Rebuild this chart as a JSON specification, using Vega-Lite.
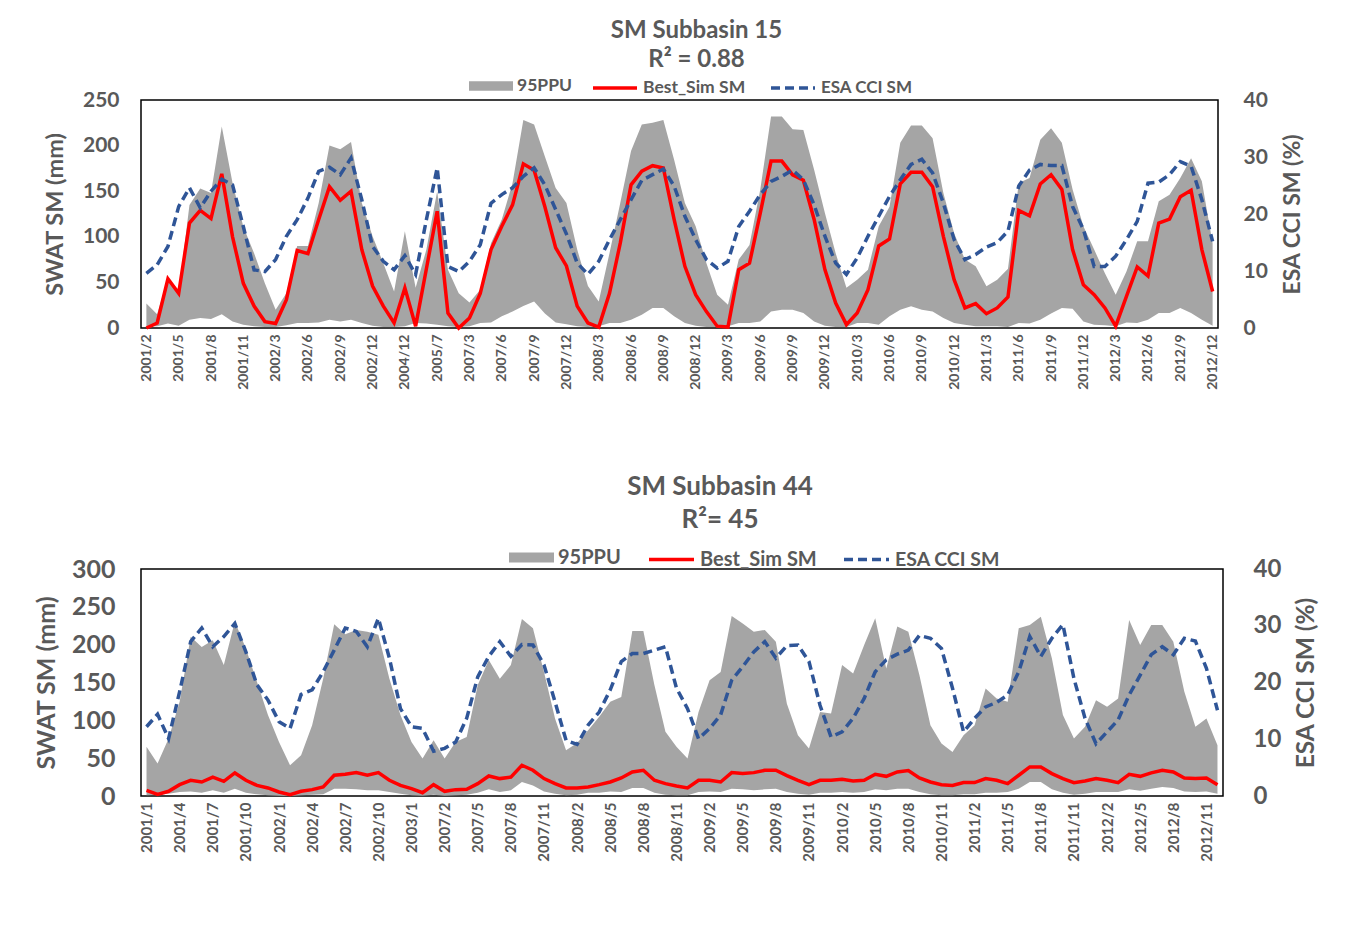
{
  "$schema": "https://vega.github.io/schema/vega-lite/v6.json",
  "padding": {"left": 33, "top": 18, "right": 10, "bottom": 5},
  "background": "white",
  "config": {
    "view": {"stroke": "#000000", "strokeWidth": 1.5},
    "font": "Lato",
    "axis": {"labelFont": "Lato", "titleFont": "Lato", "labelFontWeight": "bold", "titleFontWeight": "bold", "labelColor": "#595959", "titleColor": "#595959", "grid": false, "domain": false, "ticks": false},
    "legend": {"labelFont": "Lato", "labelFontWeight": "bold", "labelColor": "#595959", "padding": 0, "title": null, "orient": "none", "labelOffset": 4}
  },
  "datasets": {
    "s15": [
      {"d":"2001/2","lo":2,"hi":27,"sim":0,"esa":9.6},
      {"d":"2001/3","lo":2,"hi":15,"sim":5.5,"esa":11.1},
      {"d":"2001/4","lo":5,"hi":55,"sim":54,"esa":14.3},
      {"d":"2001/5","lo":2.5,"hi":39,"sim":38,"esa":21.3},
      {"d":"2001/6","lo":9,"hi":135,"sim":115,"esa":24.6},
      {"d":"2001/7","lo":11,"hi":153,"sim":129,"esa":21.1},
      {"d":"2001/8","lo":10,"hi":148,"sim":120,"esa":24},
      {"d":"2001/9","lo":15,"hi":221,"sim":169,"esa":26.1},
      {"d":"2001/10","lo":7,"hi":159,"sim":100,"esa":25.1},
      {"d":"2001/11","lo":3.5,"hi":111,"sim":49,"esa":17.8},
      {"d":"2001/12","lo":2,"hi":82,"sim":24,"esa":10.2},
      {"d":"2002/1","lo":1,"hi":49,"sim":7,"esa":9.9},
      {"d":"2002/3","lo":1,"hi":20,"sim":5,"esa":12},
      {"d":"2002/4","lo":3,"hi":38,"sim":31,"esa":16.1},
      {"d":"2002/5","lo":5.5,"hi":90,"sim":85,"esa":19},
      {"d":"2002/6","lo":5.5,"hi":90,"sim":81.5,"esa":22.8},
      {"d":"2002/7","lo":6,"hi":137,"sim":119,"esa":27.5},
      {"d":"2002/8","lo":9,"hi":200,"sim":155,"esa":28.2},
      {"d":"2002/9","lo":7,"hi":196,"sim":140,"esa":26.9},
      {"d":"2002/10","lo":9,"hi":204,"sim":150,"esa":29.8},
      {"d":"2002/11","lo":5.5,"hi":137,"sim":86,"esa":22.5},
      {"d":"2002/12","lo":2.5,"hi":100.5,"sim":46,"esa":14.3},
      {"d":"2003/1","lo":1,"hi":71,"sim":24,"esa":11.7},
      {"d":"2004/11","lo":1,"hi":40,"sim":5.5,"esa":10.2},
      {"d":"2004/12","lo":2,"hi":106,"sim":44,"esa":12.7},
      {"d":"2005/1","lo":5.5,"hi":44,"sim":2,"esa":9.4},
      {"d":"2005/6","lo":5,"hi":86,"sim":65,"esa":19},
      {"d":"2005/7","lo":3.5,"hi":150,"sim":128,"esa":28.1},
      {"d":"2005/8","lo":2,"hi":64,"sim":16.4,"esa":10.8},
      {"d":"2007/2","lo":1,"hi":38,"sim":0,"esa":9.9},
      {"d":"2007/3","lo":2,"hi":28,"sim":11,"esa":11.7},
      {"d":"2007/4","lo":5.5,"hi":42,"sim":38,"esa":14.6},
      {"d":"2007/5","lo":6,"hi":93,"sim":86,"esa":21.9},
      {"d":"2007/6","lo":13,"hi":119,"sim":111.5,"esa":23.4},
      {"d":"2007/7","lo":18,"hi":159,"sim":135,"esa":24.6},
      {"d":"2007/8","lo":24,"hi":228,"sim":180,"esa":26.6},
      {"d":"2007/9","lo":29,"hi":223,"sim":173,"esa":28.1},
      {"d":"2007/10","lo":16,"hi":188,"sim":133,"esa":25.1},
      {"d":"2007/11","lo":6,"hi":153.5,"sim":88,"esa":20.8},
      {"d":"2007/12","lo":4,"hi":137,"sim":68,"esa":16.5},
      {"d":"2008/1","lo":2,"hi":86,"sim":24,"esa":11.4},
      {"d":"2008/2","lo":1,"hi":46,"sim":5.5,"esa":9.4},
      {"d":"2008/3","lo":2,"hi":29,"sim":1,"esa":11.7},
      {"d":"2008/4","lo":5.5,"hi":82,"sim":38,"esa":15.5},
      {"d":"2008/5","lo":5.5,"hi":137,"sim":93,"esa":19},
      {"d":"2008/6","lo":9,"hi":194,"sim":157,"esa":22.5},
      {"d":"2008/7","lo":14.6,"hi":223,"sim":172,"esa":25.9},
      {"d":"2008/8","lo":22,"hi":225,"sim":178,"esa":26.9},
      {"d":"2008/9","lo":22,"hi":228,"sim":175.5,"esa":27.9},
      {"d":"2008/10","lo":13,"hi":184.5,"sim":119,"esa":24.9},
      {"d":"2008/11","lo":5.5,"hi":137,"sim":67.6,"esa":19.6},
      {"d":"2008/12","lo":2.5,"hi":111.5,"sim":36.5,"esa":15.5},
      {"d":"2009/1","lo":1,"hi":71,"sim":18,"esa":12},
      {"d":"2009/2","lo":1,"hi":36.5,"sim":2,"esa":10.5},
      {"d":"2009/3","lo":2,"hi":25.6,"sim":1,"esa":11.7},
      {"d":"2009/4","lo":5.5,"hi":75,"sim":64,"esa":17.8},
      {"d":"2009/5","lo":5.5,"hi":91,"sim":71,"esa":20.5},
      {"d":"2009/6","lo":7,"hi":152,"sim":126,"esa":23.4},
      {"d":"2009/7","lo":18,"hi":232,"sim":183,"esa":25.7},
      {"d":"2009/8","lo":20,"hi":232,"sim":183,"esa":26.6},
      {"d":"2009/9","lo":20,"hi":218,"sim":168,"esa":27.7},
      {"d":"2009/10","lo":16.4,"hi":217,"sim":162,"esa":26},
      {"d":"2009/11","lo":7,"hi":173.6,"sim":119,"esa":21.6},
      {"d":"2009/12","lo":2.5,"hi":126,"sim":64,"esa":16.1},
      {"d":"2010/1","lo":1,"hi":82,"sim":27.4,"esa":11.4},
      {"d":"2010/2","lo":1,"hi":44,"sim":3.7,"esa":9.4},
      {"d":"2010/3","lo":5.5,"hi":53,"sim":16.4,"esa":12.3},
      {"d":"2010/4","lo":5.5,"hi":64,"sim":42,"esa":16.1},
      {"d":"2010/5","lo":3.5,"hi":111.5,"sim":90,"esa":19.6},
      {"d":"2010/6","lo":13,"hi":133,"sim":97.6,"esa":23.1},
      {"d":"2010/7","lo":20,"hi":203,"sim":158,"esa":26},
      {"d":"2010/8","lo":23.8,"hi":222,"sim":170.7,"esa":28.7},
      {"d":"2010/9","lo":20,"hi":222,"sim":170.7,"esa":29.6},
      {"d":"2010/10","lo":18,"hi":208,"sim":155,"esa":27.2},
      {"d":"2010/11","lo":11,"hi":148,"sim":100.5,"esa":21.9},
      {"d":"2010/12","lo":5.5,"hi":104,"sim":53,"esa":15.5},
      {"d":"2011/1","lo":3.5,"hi":75,"sim":22,"esa":12},
      {"d":"2011/2","lo":2,"hi":67.6,"sim":26.7,"esa":12.9},
      {"d":"2011/3","lo":2,"hi":45.7,"sim":15.7,"esa":14.2},
      {"d":"2011/4","lo":2,"hi":53,"sim":22,"esa":15},
      {"d":"2011/5","lo":1,"hi":65,"sim":34,"esa":17},
      {"d":"2011/6","lo":5.5,"hi":159,"sim":129,"esa":24.9},
      {"d":"2011/7","lo":5,"hi":164.5,"sim":123,"esa":27.7},
      {"d":"2011/8","lo":9,"hi":206.5,"sim":158,"esa":28.7},
      {"d":"2011/9","lo":16,"hi":219,"sim":168,"esa":28.5},
      {"d":"2011/10","lo":22,"hi":203,"sim":152,"esa":28.5},
      {"d":"2011/11","lo":21,"hi":152,"sim":86,"esa":21.3},
      {"d":"2011/12","lo":7,"hi":111.5,"sim":47.5,"esa":17.3},
      {"d":"2012/1","lo":3.5,"hi":86,"sim":36.5,"esa":10.8},
      {"d":"2012/2","lo":3,"hi":60,"sim":22,"esa":10.8},
      {"d":"2012/3","lo":2,"hi":36.5,"sim":2,"esa":12.6},
      {"d":"2012/4","lo":6,"hi":62,"sim":34.7,"esa":15.5},
      {"d":"2012/5","lo":5.5,"hi":95,"sim":67,"esa":18.7},
      {"d":"2012/6","lo":9,"hi":95,"sim":57,"esa":25.4},
      {"d":"2012/7","lo":16.4,"hi":139,"sim":115,"esa":25.6},
      {"d":"2012/8","lo":16.4,"hi":146,"sim":119.5,"esa":26.9},
      {"d":"2012/9","lo":22,"hi":164.5,"sim":144,"esa":29.2},
      {"d":"2012/10","lo":16.4,"hi":186,"sim":151,"esa":28.4},
      {"d":"2012/11","lo":9,"hi":161,"sim":86,"esa":22.5},
      {"d":"2012/12","lo":2.5,"hi":93,"sim":40,"esa":15.2}
    ],
    "s44": [
      {"d":"2001/1","lo":0.9,"hi":65,"sim":7.5,"esa":12.2},
      {"d":"2001/2","lo":1.8,"hi":42.8,"sim":2.2,"esa":14.4},
      {"d":"2001/3","lo":3,"hi":76,"sim":6.2,"esa":10.1},
      {"d":"2001/4","lo":5.3,"hi":124.5,"sim":15,"esa":18.4},
      {"d":"2001/5","lo":6,"hi":210.6,"sim":20.8,"esa":27.2},
      {"d":"2001/6","lo":4.4,"hi":197,"sim":18.5,"esa":29.6},
      {"d":"2001/7","lo":7.5,"hi":206,"sim":25,"esa":26.3},
      {"d":"2001/8","lo":4.4,"hi":173,"sim":19.4,"esa":28.1},
      {"d":"2001/9","lo":9.7,"hi":230.5,"sim":30.5,"esa":30.4},
      {"d":"2001/10","lo":4.4,"hi":195,"sim":20.8,"esa":25.4},
      {"d":"2001/11","lo":2.2,"hi":151,"sim":14,"esa":19.6},
      {"d":"2001/12","lo":0.9,"hi":107,"sim":10.6,"esa":16.9},
      {"d":"2002/1","lo":0.4,"hi":71.5,"sim":5.3,"esa":13.1},
      {"d":"2002/2","lo":0,"hi":40.6,"sim":1.8,"esa":11.9},
      {"d":"2002/3","lo":0.9,"hi":53.9,"sim":6.2,"esa":17.9},
      {"d":"2002/4","lo":1.8,"hi":93.6,"sim":8.4,"esa":18.7},
      {"d":"2002/5","lo":2.2,"hi":155,"sim":12,"esa":21.9},
      {"d":"2002/6","lo":9.7,"hi":227,"sim":27.4,"esa":25.7},
      {"d":"2002/7","lo":9.7,"hi":213.7,"sim":28.7,"esa":29.6},
      {"d":"2002/8","lo":8.8,"hi":219.4,"sim":30.9,"esa":29},
      {"d":"2002/9","lo":7.5,"hi":217,"sim":27.4,"esa":26.3},
      {"d":"2002/10","lo":7.5,"hi":213,"sim":30.9,"esa":31.3},
      {"d":"2002/11","lo":5.3,"hi":155,"sim":20.8,"esa":24.3},
      {"d":"2002/12","lo":3,"hi":107,"sim":14,"esa":15.4},
      {"d":"2003/1","lo":0.9,"hi":71.5,"sim":9.7,"esa":12.2},
      {"d":"2003/2","lo":0.4,"hi":49.4,"sim":4.4,"esa":11.9},
      {"d":"2007/1","lo":1.8,"hi":73.7,"sim":15,"esa":7.9},
      {"d":"2007/2","lo":0.4,"hi":49.4,"sim":6.2,"esa":8.4},
      {"d":"2007/3","lo":0.9,"hi":71.5,"sim":8.4,"esa":9.5},
      {"d":"2007/4","lo":1.8,"hi":78,"sim":8.8,"esa":13.7},
      {"d":"2007/5","lo":4.4,"hi":146.6,"sim":16.3,"esa":21},
      {"d":"2007/6","lo":8.8,"hi":179.7,"sim":26.5,"esa":24.6},
      {"d":"2007/7","lo":5.3,"hi":155,"sim":23,"esa":27.2},
      {"d":"2007/8","lo":7.5,"hi":173,"sim":25,"esa":24.6},
      {"d":"2007/9","lo":18.5,"hi":234,"sim":40.6,"esa":26.7},
      {"d":"2007/10","lo":14,"hi":221.6,"sim":34,"esa":26.6},
      {"d":"2007/11","lo":6,"hi":164,"sim":23,"esa":23.1},
      {"d":"2007/12","lo":3,"hi":102.4,"sim":16.3,"esa":16.6},
      {"d":"2008/1","lo":0.9,"hi":60.5,"sim":10.6,"esa":9.8},
      {"d":"2008/2","lo":1.8,"hi":70,"sim":10.6,"esa":9.1},
      {"d":"2008/3","lo":4.4,"hi":87,"sim":12,"esa":12.5},
      {"d":"2008/4","lo":4.4,"hi":104.6,"sim":15,"esa":14.8},
      {"d":"2008/5","lo":6,"hi":124.5,"sim":18.5,"esa":18.7},
      {"d":"2008/6","lo":5.3,"hi":131,"sim":23.8,"esa":23.7},
      {"d":"2008/7","lo":10.6,"hi":218,"sim":31.8,"esa":25.1},
      {"d":"2008/8","lo":10.6,"hi":218,"sim":34,"esa":25.1},
      {"d":"2008/9","lo":4.4,"hi":146.6,"sim":20.8,"esa":25.7},
      {"d":"2008/10","lo":1.8,"hi":84.8,"sim":16.3,"esa":26.3},
      {"d":"2008/11","lo":0.9,"hi":65,"sim":13.2,"esa":19},
      {"d":"2008/12","lo":0.9,"hi":49.4,"sim":10.6,"esa":15.4},
      {"d":"2009/1","lo":5.3,"hi":111,"sim":20.8,"esa":10.1},
      {"d":"2009/2","lo":6,"hi":153,"sim":20.8,"esa":11.9},
      {"d":"2009/3","lo":5.3,"hi":164,"sim":18.5,"esa":14.3},
      {"d":"2009/4","lo":9.7,"hi":238,"sim":30.9,"esa":20.4},
      {"d":"2009/5","lo":8.8,"hi":228,"sim":29.6,"esa":22.8},
      {"d":"2009/6","lo":7.5,"hi":217,"sim":30.9,"esa":25.4},
      {"d":"2009/7","lo":8.8,"hi":219.4,"sim":34,"esa":27.2},
      {"d":"2009/8","lo":9.7,"hi":204,"sim":34,"esa":24.3},
      {"d":"2009/9","lo":5.3,"hi":122,"sim":27,"esa":26.5},
      {"d":"2009/10","lo":3,"hi":80.4,"sim":20.8,"esa":26.6},
      {"d":"2009/11","lo":1.8,"hi":62.7,"sim":15,"esa":23.7},
      {"d":"2009/12","lo":4.4,"hi":111,"sim":20.8,"esa":16},
      {"d":"2010/1","lo":4.4,"hi":109,"sim":20.8,"esa":10.4},
      {"d":"2010/2","lo":5.3,"hi":173,"sim":22,"esa":11.3},
      {"d":"2010/3","lo":4.4,"hi":162,"sim":19.9,"esa":13.7},
      {"d":"2010/4","lo":5.3,"hi":199.6,"sim":20.8,"esa":17.2},
      {"d":"2010/5","lo":8.8,"hi":234.8,"sim":28.7,"esa":21.9},
      {"d":"2010/6","lo":7.5,"hi":168.6,"sim":26,"esa":24},
      {"d":"2010/7","lo":9.7,"hi":224,"sim":31.8,"esa":25},
      {"d":"2010/8","lo":9.7,"hi":217,"sim":33.6,"esa":25.7},
      {"d":"2010/9","lo":5.3,"hi":160,"sim":23.8,"esa":28.3},
      {"d":"2010/10","lo":2.2,"hi":93.6,"sim":18.5,"esa":27.8},
      {"d":"2010/11","lo":0.9,"hi":69.3,"sim":15,"esa":26},
      {"d":"2010/12","lo":0.9,"hi":58.3,"sim":14,"esa":19},
      {"d":"2011/1","lo":2.2,"hi":80.4,"sim":17.7,"esa":11.3},
      {"d":"2011/2","lo":2.2,"hi":93.6,"sim":17.7,"esa":13.7},
      {"d":"2011/3","lo":4.4,"hi":142,"sim":23,"esa":15.7},
      {"d":"2011/4","lo":4.4,"hi":129,"sim":20.8,"esa":16.5},
      {"d":"2011/5","lo":5.3,"hi":124.5,"sim":16.3,"esa":17.8},
      {"d":"2011/6","lo":9.7,"hi":221.6,"sim":27.4,"esa":21.9},
      {"d":"2011/7","lo":18.5,"hi":226,"sim":38.4,"esa":28.1},
      {"d":"2011/8","lo":18.5,"hi":237,"sim":38.4,"esa":24.6},
      {"d":"2011/9","lo":8.8,"hi":182,"sim":29.6,"esa":27.8},
      {"d":"2011/10","lo":4.4,"hi":107,"sim":23,"esa":30.2},
      {"d":"2011/11","lo":1.8,"hi":76,"sim":17.7,"esa":20.7},
      {"d":"2011/12","lo":3,"hi":91.4,"sim":19.9,"esa":13.7},
      {"d":"2012/1","lo":5.3,"hi":126.7,"sim":23,"esa":9.2},
      {"d":"2012/2","lo":5.3,"hi":117.9,"sim":20.8,"esa":11.3},
      {"d":"2012/3","lo":5.3,"hi":129,"sim":17.7,"esa":13.4},
      {"d":"2012/4","lo":8.8,"hi":232.7,"sim":28.7,"esa":17.8},
      {"d":"2012/5","lo":7,"hi":199.6,"sim":26,"esa":21.3},
      {"d":"2012/6","lo":9.7,"hi":226,"sim":30.5,"esa":24.9},
      {"d":"2012/7","lo":11.9,"hi":226,"sim":34,"esa":26.3},
      {"d":"2012/8","lo":10.6,"hi":204,"sim":31.8,"esa":24.9},
      {"d":"2012/9","lo":6,"hi":137.7,"sim":23.8,"esa":27.8},
      {"d":"2012/10","lo":5.3,"hi":91.4,"sim":23,"esa":27.3},
      {"d":"2012/11","lo":6,"hi":102.4,"sim":23.8,"esa":22.5},
      {"d":"2012/12","lo":3,"hi":67,"sim":15,"esa":15.1}
    ]
  },
  "spacing": 83,
  "resolve": {
    "scale": {"fill": "independent", "stroke": "independent", "strokeDash": "independent"},
    "legend": {"fill": "independent", "stroke": "independent", "strokeDash": "independent"}
  },
  "vconcat": [
    {
      "data": {"name": "s15"},
      "width": 1077,
      "height": 228,
      "title": {"text": ["SM Subbasin 15", "R² = 0.88"], "font": "Lato", "fontSize": 24, "fontWeight": "bold", "color": "#595959", "lineHeight": 29, "anchor": "middle", "frame": "group", "dx": 17, "offset": -8},
      "encoding": {
        "x": {"field": "d", "type": "ordinal", "sort": null, "scale": {"type": "point", "padding": 0.5},
          "axis": {"title": null, "labelAngle": -90, "labelFontSize": 14, "labelPadding": 6,
            "values": ["2001/2","2001/5","2001/8","2001/11","2002/3","2002/6","2002/9","2002/12","2004/12","2005/7","2007/3","2007/6","2007/9","2007/12","2008/3","2008/6","2008/9","2008/12","2009/3","2009/6","2009/9","2009/12","2010/3","2010/6","2010/9","2010/12","2011/3","2011/6","2011/9","2011/12","2012/3","2012/6","2012/9","2012/12"]}}
      },
      "layer": [
        {
          "mark": {"type": "area", "opacity": 1},
          "encoding": {
            "y": {"field": "lo", "type": "quantitative", "scale": {"domain": [0, 250], "nice": false},
              "axis": {"values": [0, 50, 100, 150, 200, 250], "labelFontSize": 21, "labelPadding": 22, "title": "SWAT SM (mm)", "titleFontSize": 23.5, "titlePadding": 15}},
            "y2": {"field": "hi"},
            "fill": {"datum": "95PPU", "type": "nominal", "scale": {"range": ["#a5a5a5"]},
              "legend": {"legendX": 328, "legendY": -36, "symbolType": "M-1,-0.22L1,-0.22L1,0.22L-1,0.22Z", "symbolSize": 1936, "symbolStrokeWidth": 0, "symbolOpacity": 1, "labelFontSize": 17.5}}
          }
        },
        {
          "mark": {"type": "line", "strokeWidth": 3.5},
          "encoding": {
            "y": {"field": "sim", "type": "quantitative", "scale": {"domain": [0, 250], "nice": false}, "axis": null},
            "stroke": {"datum": "Best_Sim SM", "type": "nominal", "scale": {"range": ["#ff0000"]},
              "legend": {"legendX": 450, "legendY": -36, "symbolType": "stroke", "symbolSize": 1936, "symbolStrokeWidth": 3.5, "labelFontSize": 17.5}}
          }
        },
        {
          "mark": {"type": "line", "strokeWidth": 3.5, "color": "#2f5597"},
          "encoding": {
            "y": {"field": "esa", "type": "quantitative", "scale": {"domain": [0, 40], "nice": false},
              "axis": {"orient": "right", "values": [0, 10, 20, 30, 40], "labelFontSize": 21, "labelPadding": 25, "title": "ESA CCI SM (%)", "titleFontSize": 23, "titlePadding": 14, "titleAngle": -90, "titleBaseline": "top"}},
            "strokeDash": {"datum": "ESA CCI SM", "type": "nominal", "scale": {"range": [[9, 5]]},
              "legend": {"legendX": 628, "legendY": -36, "symbolType": "stroke", "symbolSize": 1936, "symbolStrokeWidth": 3.5, "symbolStrokeColor": "#2f5597", "labelFontSize": 17}}
          }
        }
      ],
      "resolve": {"scale": {"y": "independent"}}
    },
    {
      "data": {"name": "s44"},
      "width": 1082,
      "height": 227,
      "title": {"text": ["SM Subbasin 44", "R²= 45"], "font": "Lato", "fontSize": 26, "fontWeight": "bold", "color": "#595959", "lineHeight": 33, "anchor": "middle", "frame": "group", "dx": 38, "offset": 2},
      "encoding": {
        "x": {"field": "d", "type": "ordinal", "sort": null, "scale": {"type": "point", "padding": 0.5},
          "axis": {"title": null, "labelAngle": -90, "labelFontSize": 15, "labelPadding": 6,
            "values": ["2001/1","2001/4","2001/7","2001/10","2002/1","2002/4","2002/7","2002/10","2003/1","2007/2","2007/5","2007/8","2007/11","2008/2","2008/5","2008/8","2008/11","2009/2","2009/5","2009/8","2009/11","2010/2","2010/5","2010/8","2010/11","2011/2","2011/5","2011/8","2011/11","2012/2","2012/5","2012/8","2012/11"]}}
      },
      "layer": [
        {
          "mark": {"type": "area", "opacity": 1},
          "encoding": {
            "y": {"field": "lo", "type": "quantitative", "scale": {"domain": [0, 300], "nice": false},
              "axis": {"values": [0, 50, 100, 150, 200, 250, 300], "labelFontSize": 25, "labelPadding": 26, "title": "SWAT SM (mm)", "titleFontSize": 25, "titlePadding": 12}},
            "y2": {"field": "hi"},
            "fill": {"datum": "95PPU", "type": "nominal", "scale": {"range": ["#a5a5a5"]},
              "legend": {"legendX": 368, "legendY": -34, "symbolType": "M-1,-0.22L1,-0.22L1,0.22L-1,0.22Z", "symbolSize": 2025, "symbolStrokeWidth": 0, "symbolOpacity": 1, "labelFontSize": 20}}
          }
        },
        {
          "mark": {"type": "line", "strokeWidth": 3.5},
          "encoding": {
            "y": {"field": "sim", "type": "quantitative", "scale": {"domain": [0, 300], "nice": false}, "axis": null},
            "stroke": {"datum": "Best_Sim SM", "type": "nominal", "scale": {"range": ["#ff0000"]},
              "legend": {"legendX": 506, "legendY": -34, "symbolType": "stroke", "symbolSize": 2025, "symbolStrokeWidth": 3.5, "labelFontSize": 20}}
          }
        },
        {
          "mark": {"type": "line", "strokeWidth": 3.5, "color": "#2f5597"},
          "encoding": {
            "y": {"field": "esa", "type": "quantitative", "scale": {"domain": [0, 40], "nice": false},
              "axis": {"orient": "right", "values": [0, 10, 20, 30, 40], "labelFontSize": 24, "labelPadding": 30, "title": "ESA CCI SM (%)", "titleFontSize": 24.5, "titlePadding": 14, "titleAngle": -90, "titleBaseline": "top"}},
            "strokeDash": {"datum": "ESA CCI SM", "type": "nominal", "scale": {"range": [[9, 5]]},
              "legend": {"legendX": 701, "legendY": -34, "symbolType": "stroke", "symbolSize": 2025, "symbolStrokeWidth": 3.5, "symbolStrokeColor": "#2f5597", "labelFontSize": 19.5}}
          }
        }
      ],
      "resolve": {"scale": {"y": "independent"}}
    }
  ]
}
